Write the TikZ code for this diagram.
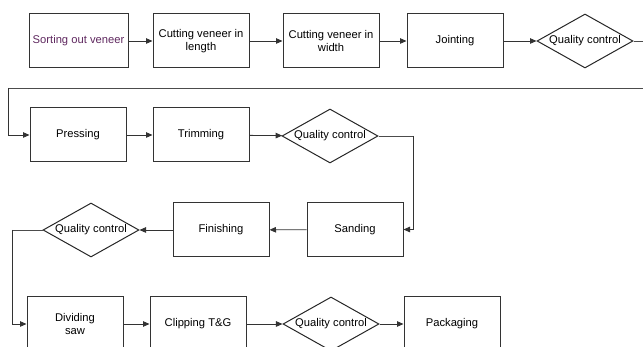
\documentclass[tikz,border=0pt]{standalone}
\usepackage{fontspec}
\setmainfont{Liberation Sans}
\usetikzlibrary{shapes.geometric,arrows.meta}

\definecolor{plum}{RGB}{95,40,95}

\tikzset{
    process/.style={draw=black!80, line width=1pt, rectangle,
        minimum width=96pt, minimum height=54pt, align=center,
        inner sep=1pt, font=\fontsize{11.2}{13}\selectfont},
    decision/.style={draw=black!85, line width=1pt, diamond,
        minimum width=96pt, minimum height=54pt, inner sep=0pt,
        label={[font=\fontsize{11.2}{13}\selectfont]center:#1}},
    flow/.style={draw=black!80, line width=0.8pt,
        -{Triangle[length=6.5pt,width=5.5pt]}},
    link/.style={draw=black!70, line width=0.7pt}
}

\begin{document}
\begin{tikzpicture}[x=1pt,y=-1pt]
    \useasboundingbox (0,0) rectangle (643,347);
    \clip (0,0) rectangle (643,347);

    % first row
    \node [process, minimum width=99pt, text=plum] (sort) at (78.5,41) {Sorting out veneer};
    \node [process] (length) at (201,41) {Cutting veneer in\\length};
    \node [process] (width) at (331,41) {Cutting veneer in\\width};
    \node [process] (joint) at (455,41) {Jointing};
    \node [decision=Quality control] (qcA) at (585,41) {};

    % second row
    \node [process] (press) at (78,135) {Pressing};
    \node [process] (trim) at (201,135) {Trimming};
    \node [decision=Quality control] (qcB) at (330,136) {};

    % third row (right to left)
    \node [process] (sand) at (355,229.5) {Sanding};
    \node [process] (finish) at (221,230) {Finishing};
    \node [decision=Quality control] (qcC) at (91,230) {};

    % fourth row
    \node [process] (saw) at (75,324) {Dividing\\saw};
    \node [process] (clip) at (198,324) {Clipping T\&G};
    \node [decision=Quality control] (qcD) at (331,324) {};
    \node [process] (pack) at (452,324) {Packaging};

    % turning points
    \coordinate (outA) at (660,41);
    \coordinate (backA) at (660,88);
    \coordinate (leftA) at (8,88);
    \coordinate (turnB) at (413,136);
    \coordinate (turnC) at (12,230);

    \draw [flow] (sort) -- (length);
    \draw [flow] (length) -- (width);
    \draw [flow] (width) -- (joint);
    \draw [flow] (joint) -- (qcA);
    \draw [link] (qcA.east) -- (outA) -- (backA) -- (leftA);
    \draw [flow] (leftA) |- (press.west);

    \draw [flow] (press) -- (trim);
    \draw [flow] (trim) -- (qcB);
    \draw [link] (qcB.east) -- (turnB);
    \draw [flow] (turnB) |- (sand.east);

    \draw [flow] (sand) -- (finish);
    \draw [flow] (finish) -- (qcC);
    \draw [link] (qcC.west) -- (turnC);
    \draw [flow] (turnC) |- (saw.west);

    \draw [flow] (saw) -- (clip);
    \draw [flow] (clip) -- (qcD);
    \draw [flow] (qcD) -- (pack);
\end{tikzpicture}
\end{document}
